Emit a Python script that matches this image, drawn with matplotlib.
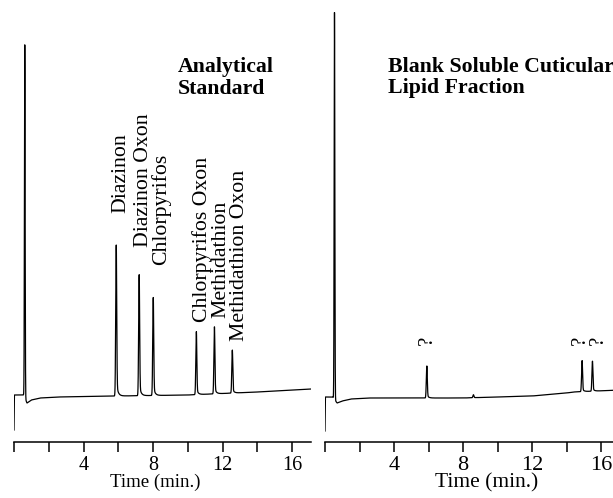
import numpy as np
import matplotlib.pyplot as plt

plt.rcParams['font.family'] = ['Liberation Serif', 'DejaVu Serif']

# Analytical standard: retention time (min), peak height above baseline
std_names = ["Diazinon", "Diazinon Oxon", "Chlorpyrifos",
             "Chlorpyrifos Oxon", "Methidathion", "Methidathion Oxon"]
std_times = [5.88, 7.20, 8.01, 10.49, 11.53, 12.56]
std_heights = [151, 121, 98, 63, 67, 43]

# solvent front
std_solvent_t = 0.62
std_solvent_h = 353
# baseline drift read at a few times
std_base_t = [0.0, 0.02, 0.55, 0.75, 1.0, 1.5, 2.5, 6.0, 10.0, 14.0, 17.1]
std_base_y = [-34, 1, 1, -7, -4, -2, -1, 0, 1, 4, 7]

# Blank soluble cuticular lipid fraction
blank_names = ["?", "", "?", "?"]
blank_times = [5.90, 8.60, 14.90, 15.50]
blank_heights = [32, 3, 31, 30]
blank_solvent_t = 0.55
blank_solvent_h = 387
blank_base_t = [0.0, 0.02, 0.45, 0.70, 1.0, 1.5, 2.5, 8.0, 12.0, 14.0, 14.4, 17.1]
blank_base_y = [-35, -1, -1, -7, -5, -3, -2, -2, 0, 3, 4, 6]

tick_pos = [0, 2, 4, 6, 8, 10, 12, 14, 16]
tick_labels = ["", "", "4", "", "8", "", "12", "", "16"]

# label layout: x (min) and bottom of rotated text (signal units)
std_label_x = [6.12, 7.44, 8.44, 10.83, 11.92, 12.95]
std_label_y = [183, 149, 131, 74, 78, 55]
blank_label_x = [5.95, 0, 14.82, 15.82]
blank_label_y = [51, 0, 51, 51]


def trace(t, base_t, base_y, times, heights, solvent_t, solvent_h):
    y = np.interp(t, base_t, base_y)
    y = y + solvent_h * np.exp(-0.5 * ((t - solvent_t) / 0.02) ** 2)
    for t0, h in zip(times, heights):
        core = np.exp(-0.5 * ((t - t0) / 0.028) ** 2)
        tail = np.where(t > t0, np.exp(-(t - t0) / 0.09), 0) * \
            (1 - np.exp(-np.clip(t - t0, 0, None) / 0.01))
        shape = core + 0.1 * tail
        y = y + h * shape / shape.max()
    return y


fig = plt.figure(figsize=(6.13, 4.98), dpi=100)
W, H = 613.0, 498.0

panels = [
    dict(left=14, right=311, xmax=17.09, base_t=std_base_t, base_y=std_base_y,
         times=std_times, heights=std_heights, st=std_solvent_t, sh=std_solvent_h,
         names=std_names, label_x=std_label_x, label_y=std_label_y, label_size=15.7,
         title="Analytical\nStandard", title_x=9.44, xlabel_x=0.475,
         tick_size=14.5, xlabel_size=13.5),
    dict(left=325, right=620, xmax=17.1, base_t=blank_base_t, base_y=blank_base_y,
         times=blank_times, heights=blank_heights, st=blank_solvent_t, sh=blank_solvent_h,
         names=blank_names, label_x=blank_label_x, label_y=blank_label_y, label_size=15,
         title="Blank Soluble Cuticular\nLipid Fraction", title_x=3.64, xlabel_x=0.549,
         tick_size=16, xlabel_size=15.5),
]

for p in panels:
    ax = fig.add_axes([p['left'] / W, (H - 442) / H, (p['right'] - p['left']) / W, 442 / H])
    t = np.linspace(0, p['xmax'], 8000)
    y = trace(t, p['base_t'], p['base_y'], p['times'], p['heights'], p['st'], p['sh'])
    ax.plot(t, y, color='black', lw=0.9)
    ax.set_xlim(0, p['xmax'])
    ax.set_ylim(-46, 396)
    for s in ['top', 'right', 'left']:
        ax.spines[s].set_visible(False)
    ax.spines['bottom'].set_linewidth(1.1)
    ax.set_yticks([])
    ax.set_xticks(tick_pos)
    ax.set_xticklabels(tick_labels)
    ax.tick_params(axis='x', direction='out', length=7, width=1.1, pad=3,
                   labelsize=p['tick_size'])
    ax.set_xlabel("Time (min.)", fontsize=p['xlabel_size'], labelpad=-1)
    ax.xaxis.label.set_x(p['xlabel_x'])

    for name, lx, ly in zip(p['names'], p['label_x'], p['label_y']):
        if name:
            ax.text(lx, ly, name, rotation=90, ha='center', va='bottom',
                    fontsize=p['label_size'])

    ax.text(p['title_x'], 339, p['title'], ha='left', va='top', fontsize=15.7,
            fontweight='bold', linespacing=1.1)

fig.savefig("out.png", dpi=100)
